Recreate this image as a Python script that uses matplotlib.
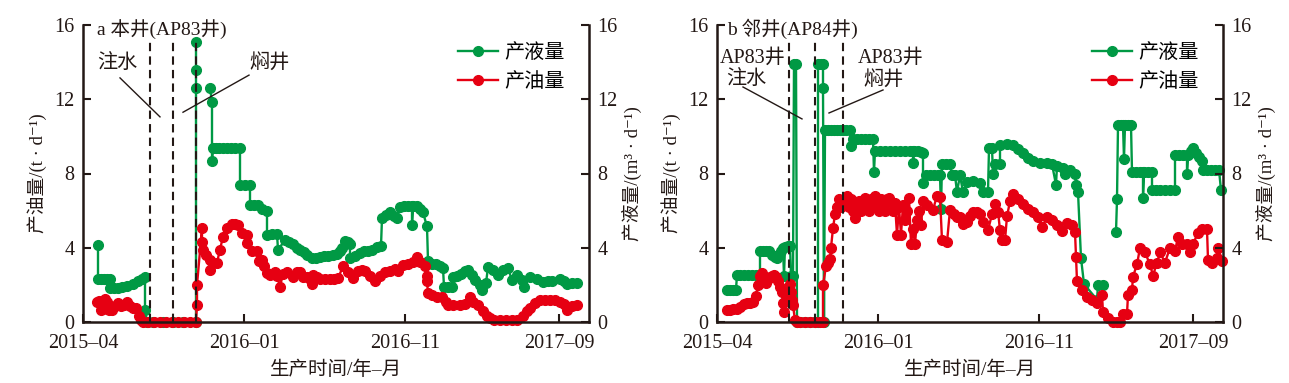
import matplotlib.pyplot as plt
from matplotlib.lines import Line2D

plt.rcParams['font.family'] = ['Liberation Serif', 'Noto Sans CJK SC', 'DejaVu Serif']
plt.rcParams['font.size'] = 14

GREEN = '#009944'
RED = '#e60012'
INK = '#231815'
nan = float('nan')

# x: days counted from 2015-04 (axis runs 0..1012), y: t/d or m3/d
# --- panel a: AP83 well itself
a_liq_x = [30, 30, 36, 42, 48, 54, 54, 62, 70, 78, 88, 100, 110, 118, 124, 124, 128, 140, 160, 180, 200, 226,
           226, 226, 226, 240, 254, 258, 258, 260, 266, 272, 280, 288, 296, 304, 314, 314, 324, 334, 334,
           342, 350, 358, 368, 368, 378, 388, 390, 404, 412, 420, 428, 434, 442, 448, 458, 466, 474, 482,
           490, 500, 508, 514, 518, 524, 530, 534, 534, 544, 554, 562, 570, 578, 588, 596, 598, 606, 614,
           622, 628, 634, 642, 650, 658, 658, 660, 668, 674, 680, 688, 690, 698, 706, 714, 720, 722, 730,
           738, 740, 748, 756, 764, 770, 778, 784, 794, 798, 806, 810, 820, 830, 840, 850, 858, 868, 878,
           882, 894, 908, 920, 930, 938, 954, 962, 968, 978, 988]
a_liq_y = [4.15, 2.3, 2.3, 2.3, 2.3, 2.3, 1.85, 1.85, 1.85, 1.9, 1.95, 2.05, 2.2, 2.3, 2.4, 0.65, 0, 0, 0, 0, 0, 0,
           12.6, 13.6, 15.1, nan, 12.6, 11.85, 8.7, 9.4, 9.4, 9.4, 9.4, 9.4, 9.4, 9.4, 9.4, 7.4, 7.4, 7.4, 6.3,
           6.3, 6.3, 6.1, 6.0, 4.7, 4.75, 4.75, 3.9, 4.4, 4.3, 4.2, 4.0, 3.9, 3.75, 3.6, 3.45, 3.45, 3.5, 3.55,
           3.55, 3.6, 3.65, 3.8, 4.0, 4.35, 4.3, 4.2, 3.45, 3.55, 3.7, 3.8, 3.85, 3.9, 4.05, 4.1, 5.6, 5.75, 5.9,
           5.7, 5.6, 6.2, 6.25, 6.25, 6.25, 5.2, 6.25, 6.25, 6.1, 5.9, 5.15, 3.3, 3.15, 3.1, 3.0, 2.9, 1.9, 1.9,
           1.9, 2.4, 2.5, 2.6, 2.75, 2.8, 2.55, 2.25, 2.0, 1.7, 2.1, 2.95, 2.8, 2.55, 2.8, 2.9, 2.25, 2.55, 2.25,
           1.9, 2.4, 2.3, 2.15, 2.2, 2.2, 2.3, 2.2, 2.05, 2.1, 2.1]
a_oil_x = [28, 32, 36, 40, 44, 48, 52, 58, 64, 70, 76, 82, 88, 94, 100, 106, 112, 116, 120, 130, 142, 154, 166,
           178, 190, 202, 214, 226, 228, 228, 238, 238, 240, 246, 254, 254, 260, 268, 274, 280, 288, 298, 304,
           310, 318, 328, 328, 338, 348, 352, 358, 362, 368, 374, 384, 388, 394, 400, 408, 420, 428, 434, 440,
           448, 454, 458, 460, 468, 474, 484, 494, 502, 510, 520, 530, 540, 550, 558, 564, 574, 584, 594, 604,
           614, 624, 630, 640, 650, 660, 668, 674, 684, 688, 688, 690, 698, 708, 718, 726, 730, 740, 754, 764,
           774, 780, 790, 800, 808, 814, 822, 834, 846, 858, 868, 880, 888, 894, 904, 914, 924, 934, 944, 954,
           962, 968, 978, 988]
a_oil_y = [1.1, 1.15, 0.65, 0.7, 1.25, 1.1, 0.65, 0.65, 0.85, 1.0, 0.85, 0.9, 1.1, 0.85, 0.75, 0.75, 0.35, 0.1, 0,
           0, 0, 0, 0, 0, 0, 0, 0, 0, 0.9, 2.0, 5.05, 4.3, 3.9, 3.6, 3.35, 2.8, 3.2, 3.2, 3.9, 4.6, 5.05, 5.3,
           5.3, 5.25, 4.8, 4.7, 4.25, 3.8, 3.8, 3.3, 3.35, 3.0, 2.65, 2.55, 2.7, 2.5, 1.9, 2.6, 2.7, 2.45, 2.7,
           2.7, 2.4, 2.45, 2.3, 2.05, 2.55, 2.4, 2.3, 2.3, 2.3, 2.3, 2.35, 3.0, 2.7, 2.35, 2.75, 2.8, 2.75, 2.5,
           2.2, 2.5, 2.7, 2.75, 2.85, 2.75, 3.05, 3.15, 3.25, 3.5, 3.25, 3.0, 2.5, 2.2, 1.55, 1.45, 1.35, 1.35,
           1.1, 0.9, 0.9, 0.9, 0.95, 1.35, 1.1, 0.9, 0.6, 0.35, 0.2, 0.1, 0.1, 0.1, 0.1, 0.12, 0.35, 0.6, 0.75,
           1.05, 1.2, 1.2, 1.2, 1.2, 1.1, 0.95, 0.65, 0.85, 0.9]
a_dash_x = [134, 180, 226]

# --- panel b: neighbouring AP84 well
b_liq_x = [20, 26, 32, 38, 40, 46, 54, 62, 70, 78, 86, 86, 92, 98, 104, 110, 116, 120, 124, 128, 132, 134, 136,
           142, 146, 148, 152, 154, 158, 160, 166, 176, 186, 196, 202, 202, 208, 212, 212, 214, 216, 222, 228,
           234, 240, 246, 252, 258, 266, 268, 272, 280, 288, 296, 304, 312, 314, 316, 326, 336, 346, 356, 366,
           376, 386, 392, 392, 394, 402, 408, 412, 412, 418, 426, 434, 442, 446, 448, 450, 458, 466, 470, 476,
           480, 486, 492, 500, 512, 526, 532, 542, 544, 550, 552, 556, 566, 566, 580, 592, 602, 612, 622, 632,
           646, 660, 670, 678, 680, 692, 696, 706, 716, 718, 722, 728, 734, 760, 762, 772, 785, 798, 800, 802,
           808, 812, 814, 816, 822, 828, 830, 838, 846, 852, 852, 854, 862, 870, 870, 878, 886, 896, 906, 916,
           916, 924, 932, 940, 940, 942, 948, 952, 958, 964, 970, 972, 980, 988, 996, 1004, 1008]
b_liq_y = [1.75, 1.75, 1.75, 1.75, 2.55, 2.55, 2.55, 2.55, 2.55, 2.55, 2.55, 3.8, 3.8, 3.8, 3.8, 3.6, 3.5, 3.45,
           3.6, 3.8, 4.0, 2.5, 4.05, 4.1, 4.1, 2.5, 2.5, 13.9, 13.9, 0, 0, 0, 0, 0, 0, 13.9, 13.9, 13.9, 12.6, 0,
           10.35, 10.35, 10.35, 10.35, 10.35, 10.35, 10.35, 10.35, 10.35, 9.5, 9.85, 9.85, 9.85, 9.85, 9.85,
           9.85, 8.1, 9.2, 9.2, 9.2, 9.2, 9.2, 9.2, 9.2, 9.2, 9.2, 8.55, 9.2, 9.2, 9.15, 9.1, 7.5, 7.9, 7.9,
           7.9, 7.9, 7.9, 6.1, 8.5, 8.5, 8.5, 7.9, 7.9, 7.0, 7.9, 7.0, 7.55, 7.6, 7.5, 7.0, 7.0, 9.35, 9.35,
           8.0, 8.5, 8.5, 9.55, 9.6, 9.55, 9.3, 9.1, 8.85, 8.7, 8.55, 8.55, 8.5, 7.4, 8.4, 8.3, 8.0, 8.2, 8.0,
           7.4, 7.0, 3.45, 2.05, 1.2, 2.0, 2.0, nan, 4.85, 6.6, 10.6, 10.6, 10.6, 8.8, 10.6, 10.6, 10.6, 8.1,
           8.1, 8.1, 8.1, 6.7, 8.1, 8.1, 8.1, 7.1, 7.1, 7.1, 7.1, 7.1, 7.1, 9.0, 9.0, 9.0, 9.0, 8.0, 9.0, 9.2,
           9.35, 9.1, 8.9, 8.7, 8.2, 8.2, 8.2, 8.2, 8.2, 7.1]
b_oil_x = [20, 26, 32, 40, 46, 54, 60, 66, 72, 78, 82, 86, 90, 94, 98, 102, 106, 110, 114, 118, 122, 126, 130,
           132, 134, 138, 142, 146, 148, 150, 152, 156, 160, 166, 176, 186, 196, 206, 212, 212, 218, 222, 226,
           228, 232, 236, 240, 244, 248, 252, 256, 260, 264, 268, 272, 276, 280, 284, 288, 292, 296, 300, 304,
           308, 312, 316, 320, 324, 328, 332, 336, 340, 344, 348, 352, 356, 360, 364, 368, 372, 376, 380, 384,
           388, 392, 396, 400, 404, 408, 412, 420, 432, 440, 446, 450, 460, 466, 474, 480, 486, 492, 500, 506,
           512, 520, 526, 532, 542, 550, 556, 562, 566, 570, 576, 580, 586, 592, 602, 612, 622, 632, 642, 650,
           660, 670, 680, 690, 700, 710, 716, 718, 720, 730, 740, 750, 760, 770, 772, 782, 792, 800, 806, 812,
           820, 822, 830, 832, 840, 846, 856, 866, 872, 880, 886, 896, 906, 916, 922, 930, 940, 946, 952, 962,
           970, 980, 982, 990, 1000, 1002, 1010]
b_oil_y = [0.65, 0.65, 0.7, 0.7, 0.8, 0.95, 1.05, 1.05, 1.1, 1.4, 2.0, 2.5, 2.65, 2.2, 2.1, 2.3, 2.45, 2.5,
           2.55, 2.4, 2.2, 1.9, 1.6, 1.0, 0.55, 1.2, 1.6, 2.05, 1.6, 1.2, 0.9, 0.1, 0, 0, 0, 0, 0, 0, 0, 2.0,
           3.0, 3.2, 3.4, 4.0, 5.05, 5.8, 6.2, 6.6, 6.2, 6.3, 6.4, 6.8, 6.2, 6.6, 6.0, 5.6, 6.3, 6.5, 6.0, 6.5,
           6.7, 6.3, 6.0, 6.6, 6.3, 6.8, 6.5, 6.0, 6.6, 6.3, 6.0, 6.6, 6.7, 6.4, 6.0, 6.4, 4.7, 6.2, 4.7, 6.3,
           5.5, 6.0, 6.7, 4.2, 5.0, 4.2, 5.5, 6.0, 5.2, 6.5, 6.3, 6.05, 6.8, 6.75, 4.4, 4.3, 6.05, 5.8, 5.65,
           5.65, 5.3, 5.4, 5.7, 5.95, 5.9, 5.8, 5.4, 4.95, 5.8, 6.35, 5.95, 4.95, 4.4, 4.4, 5.7, 6.5, 6.9, 6.6,
           6.35, 6.1, 5.95, 5.65, 5.1, 5.65, 5.5, 5.2, 4.9, 5.35, 5.25, 4.85, 3.5, 2.2, 1.7, 1.35, 1.2, 1.0,
           1.45, 0.55, 0.2, 0, 0, 0, 0.45, 0.45, 1.45, 1.7, 2.45, 3.1, 4.0, 3.75, 3.1, 2.5, 3.2, 3.75, 3.2, 4.0,
           3.8, 4.6, 4.2, 4.2, 3.75, 4.2, 4.8, 5.0, 5.0, 3.35, 3.2, 3.45, 4.0, 3.3]
b_dash_x = [144, 196, 252]

x_ticks = [0, 322, 644, 952]
x_labels = ['2015–04', '2016–01', '2016–11', '2017–09']
y_ticks = [0, 4, 8, 12, 16]


def draw_panel(ax, liq_x, liq_y, oil_x, oil_y, dash_x, title, title_x, notes, legs):
    ax.plot(liq_x, liq_y, color=GREEN, lw=1.7, marker='o', ms=7, clip_on=False, zorder=2)
    ax.plot(oil_x, oil_y, color=RED, lw=1.7, marker='o', ms=7, clip_on=False, zorder=2.1)
    for xd in dash_x:
        ax.plot([xd, xd], [0, 15.2], color=INK, lw=1.5, ls=(0, (4, 2.5)), zorder=3)
    ax.text(title_x, 15.8, title, ha='left', va='center', color=INK, fontsize=14)
    for tx, ty, s in notes:
        ax.text(tx, ty, s, ha='center', va='center', color=INK, fontsize=14.5)
    for x0, x1, y0, y1 in legs:
        ax.plot([x0, x1], [y0, y1], color=INK, lw=1.0)

    ax.set_xlim(0, 1012)
    ax.set_ylim(0, 16)
    ax.set_xticks(x_ticks)
    ax.set_xticklabels(x_labels)
    ax.set_yticks(y_ticks)
    ax.spines['top'].set_visible(False)
    ax.spines['right'].set_visible(False)
    for s in ['left', 'bottom']:
        ax.spines[s].set_linewidth(1.8)
        ax.spines[s].set_color(INK)
    ax.tick_params(direction='in', length=6, width=1.5, labelsize=14.5, colors=INK, pad=6)
    ax.tick_params(axis='x', pad=9)
    ax.set_xlabel('生产时间/年–月', fontsize=14, color=INK, labelpad=5)
    ax.set_ylabel('产油量/(t · d⁻¹)', fontsize=13.5, color=INK, va='center', ha='center')
    ax.yaxis.set_label_coords(-0.09, 0.5)

    ax2 = ax.twinx()
    ax2.set_ylim(0, 16)
    ax2.set_yticks(y_ticks)
    for s in ['left', 'top', 'bottom']:
        ax2.spines[s].set_visible(False)
    ax2.spines['right'].set_linewidth(1.8)
    ax2.spines['right'].set_color(INK)
    ax2.tick_params(direction='in', length=6, width=1.5, labelsize=14.5, colors=INK, pad=6)
    ax2.set_ylabel('产液量/(m³ · d⁻¹)', fontsize=13.5, color=INK, rotation=90, va='center', ha='center')
    ax2.yaxis.set_label_coords(1.085, 0.5)

    handles = [Line2D([], [], color=GREEN, lw=1.7, marker='o', ms=7),
               Line2D([], [], color=RED, lw=1.7, marker='o', ms=7)]
    ax2.legend(handles, ['产液量', '产油量'], loc='upper left', bbox_to_anchor=(0.741, 0.935),
               frameon=False, borderaxespad=0, borderpad=0, handlelength=2.0,
               handletextpad=0.3, labelspacing=0.45, fontsize=14.5)


fig = plt.figure(figsize=(12.89, 3.83), dpi=100)
ax_a = fig.add_axes([83 / 1289, 61 / 383, 506 / 1289, 297 / 383])
ax_b = fig.add_axes([717 / 1289, 61 / 383, 506 / 1289, 297 / 383])

draw_panel(ax_a, a_liq_x, a_liq_y, a_oil_x, a_oil_y, a_dash_x, 'a 本井(AP83井)', 28,
           [(68, 13.95, '注水'), (374, 13.95, '焖井')],
           [(74, 154, 13.15, 11.05), (332, 200, 13.3, 11.3)])
draw_panel(ax_b, b_liq_x, b_liq_y, b_oil_x, b_oil_y, b_dash_x, 'b 邻井(AP84井)', 20,
           [(72, 14.22, 'AP83井'), (58, 13.04, '注水'), (348, 14.22, 'AP83井'), (332, 13.04, '焖井')],
           [(52, 170, 12.66, 10.94), (332, 224, 12.5, 11.26)])

fig.savefig('out.png', dpi=100)
